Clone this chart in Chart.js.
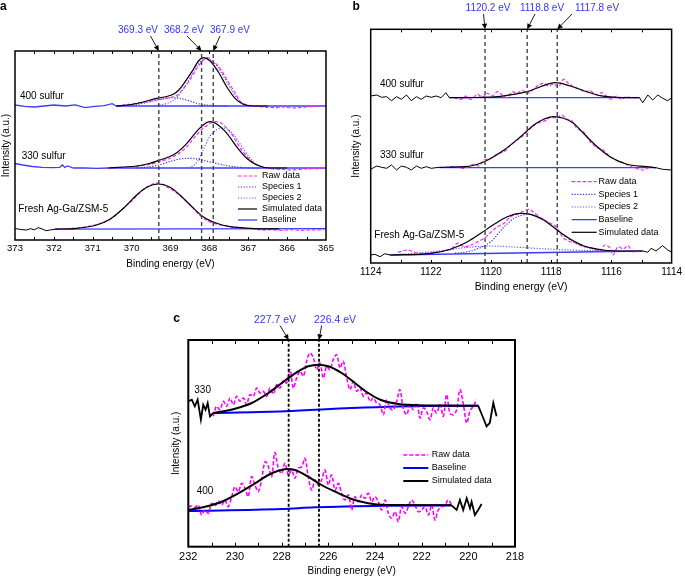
<!DOCTYPE html>
<html>
<head>
<meta charset="utf-8">
<script src="https://cdn.jsdelivr.net/npm/chart.js@4.4.0/dist/chart.umd.min.js"></script>
<style>
  html, body { margin: 0; padding: 0; background: #fff; }
  body { width: 685px; height: 577px; position: relative; overflow: hidden; }
  canvas { position: absolute; }
</style>
</head>
<body>
<canvas id="chartA" width="340" height="290" style="left:0;top:0;width:340px;height:290px"></canvas>
<canvas id="chartB" width="345" height="300" style="left:340px;top:0;width:345px;height:300px"></canvas>
<canvas id="chartC" width="360" height="277" style="left:170px;top:300px;width:360px;height:277px"></canvas>
<script>
// XPS fits, three panels. Energies in eV, intensities in a.u. (curves are stacked with offsets)

// ---------- panel a ----------
const aPeaks = [369.3, 368.2, 367.9];
const aSamples = ['400 sulfur', '330 sulfur', 'Fresh Ag-Ga/ZSM-5'];
const a400Lead = [[373,135],[372.75,133.7],[372.5,133],[372.25,134],[372,135],[371.7,134],[371.45,135.2],[371.2,132.3],[370.95,133.7],[370.7,134.3],[370.5,136.3],[370.4,134]];
const a400Raw = [[370.4,134],[370.1,135.5],[369.8,137],[369.5,139],[369.2,141],[368.95,143],[368.8,145.5],[368.67,151.7],[368.55,157],[368.45,163.3],[368.35,170],[368.22,177],[368.07,182.3],[367.93,180],[367.8,175],[367.67,168.3],[367.5,157],[367.35,148],[367.2,138.3],[367.05,135],[366.9,134],[366.7,133.3],[366.5,132.7],[366.3,132.3],[366.1,133],[365.9,132],[365.7,132.3],[365.5,133],[365.3,133.7],[365.05,134]];
const a400Sim = [[370.4,134],[370.0,135.5],[369.7,138],[369.36,141.7],[369.1,143.5],[368.93,145.7],[368.8,149.5],[368.67,155.7],[368.45,168.3],[368.28,179],[368.16,182.3],[367.98,179],[367.77,168],[367.55,153],[367.34,141.7],[367.13,135.7],[366.87,134],[366.5,134]];
const a400Sp1 = [[370.4,134],[369.9,135.5],[369.5,138.5],[369.2,141.2],[368.95,142.3],[368.75,141.5],[368.5,139],[368.3,136.5],[368.1,135],[367.8,134.3],[367.5,134]];
const a400Sp2 = [[369.5,134],[369.2,135.5],[368.95,139],[368.8,144],[368.65,152],[368.5,162],[368.35,172],[368.2,179.5],[368.1,181.5],[368.0,180.5],[367.85,176],[367.7,168],[367.55,158],[367.4,148],[367.25,140],[367.1,136],[366.9,134.3],[366.7,134]];
const a400Base = [[370.4,134],[365,134]];

const a330Lead = [[373,76.5],[372.8,75],[372.55,73.5],[372.3,72.7],[372.05,72.3],[371.85,72.7],[371.78,75],[371.72,72.5],[371.65,74],[371.5,72],[371.2,72],[370.9,71.7],[370.6,72]];
const a330Raw = [[370.6,72],[370.2,72.7],[369.87,73.7],[369.55,75.5],[369.27,78.5],[369.0,82],[368.8,86],[368.58,93.3],[368.37,103.3],[368.16,111.7],[367.98,116.7],[367.85,118.3],[367.7,117],[367.55,111.7],[367.38,103.3],[367.2,91.7],[366.95,80],[366.75,75],[366.5,71.7],[366.2,70.7],[365.9,70],[365.6,71],[365.3,71.3],[365.05,71.5]];
const a330Sim = [[370.6,72],[370.2,73],[369.87,74],[369.55,76.5],[369.27,80],[369.05,83],[368.84,87.3],[368.58,96.7],[368.37,106.7],[368.16,115],[367.98,118.3],[367.81,116],[367.55,106.7],[367.3,93.3],[367.04,81.7],[366.78,75],[366.44,72],[366.0,72]];
const a330Sp1 = [[369.9,72],[369.6,73],[369.3,75],[369.05,78],[368.8,80.7],[368.5,81.7],[368.2,80],[367.9,77.3],[367.5,74],[367.2,72.7],[367.0,72],[366.7,72]];
const a330Sp2 = [[368.6,72],[368.45,73.5],[368.3,79],[368.16,90],[367.98,104],[367.8,110.5],[367.65,112],[367.5,110],[367.35,104],[367.21,96],[366.95,81.7],[366.7,73.3],[366.5,72]];
const a330Base = [[370.6,72],[365,72]];

const aFreshLead = [[373,11.5],[372.85,10.5],[372.7,10],[372.6,11.3],[372.5,10.2],[372.4,12.3],[372.3,11],[372.2,9.3],[372.1,10],[371.97,10.7]];
const aFreshRaw = [[371.97,10.7],[371.7,11.3],[371.4,12],[371.1,13.7],[370.85,16],[370.6,19.5],[370.4,25],[370.2,32.3],[370.0,39],[369.8,47],[369.6,53.3],[369.4,56.7],[369.25,56.3],[369.05,52],[368.85,47.3],[368.65,41],[368.45,33.3],[368.25,24.7],[368.05,19.3],[367.85,16.3],[367.65,14.7],[367.4,13.3],[367.15,11.7],[366.9,11.3],[366.65,10],[366.4,10.3],[366.15,9.7],[365.9,10.3],[365.65,9.7],[365.4,10],[365.05,10.3]];
const aFreshSim = [[371.97,10.8],[371.41,11.7],[370.9,15],[370.56,20.7],[370.21,31.7],[369.87,45],[369.61,52.7],[369.31,56],[369.01,52.7],[368.76,45],[368.45,33.3],[368.16,23.3],[367.81,16.7],[367.47,13.3],[366.95,11.7],[366.5,11.2],[366.2,11.2]];
const aFreshBase = [[371.97,10.8],[365,11.3]];

// ---------- panel b ----------
const bPeaks = [1120.2, 1118.8, 1117.8];
const bSamples = ['400 sulfur', '330 sulfur', 'Fresh Ag-Ga/ZSM-5'];
const b400Lead = [[1124,167],[1123.8,168],[1123.64,165.7],[1123.47,166.3],[1123.31,162.3],[1123.14,166.3],[1122.98,163.7],[1122.81,168],[1122.65,162.3],[1122.48,166.3],[1122.32,163.7],[1122.15,167],[1121.99,165.7],[1121.82,167],[1121.66,165.3],[1121.5,170.3],[1121.39,165.3]];
const b400Tail = [[1115.07,165.3],[1114.96,160.3],[1114.79,168],[1114.63,163],[1114.46,168],[1114.3,164.7],[1114.13,162.3],[1114.02,164.7]];
const b400Raw = [[1121.22,165.3],[1121.0,163.7],[1120.84,167],[1120.67,163.7],[1120.45,168.7],[1120.29,165.7],[1120.12,169.7],[1119.96,167],[1119.79,171.3],[1119.63,168],[1119.46,165.3],[1119.3,171.3],[1119.13,169.7],[1118.97,173],[1118.8,169.7],[1118.58,173.7],[1118.42,178],[1118.25,179.7],[1118.09,177],[1117.92,179],[1117.76,176.3],[1117.59,183.7],[1117.43,179.7],[1117.26,176.3],[1117.04,173.7],[1116.88,171.3],[1116.71,172.3],[1116.5,168],[1116.33,170.3],[1116.17,167],[1116.0,163.7],[1115.84,167],[1115.67,163.7],[1115.51,166.3],[1115.34,165.3],[1115.18,165.3]];
const b400Sim = [[1121.39,165.3],[1120.5,165.5],[1119.79,166.3],[1119.24,168.7],[1118.8,171.3],[1118.36,176.3],[1117.87,180.3],[1117.37,177],[1116.82,171.3],[1116.38,167.3],[1115.84,165.7],[1115.07,165.3]];
const b400Base = [[1121.39,165.3],[1115.07,165.3]];

const b330Lead = [[1124,93.7],[1123.8,97],[1123.64,95.7],[1123.47,94.7],[1123.31,98],[1123.14,93],[1122.98,97],[1122.81,95.7],[1122.65,93],[1122.48,97],[1122.32,94.7],[1122.15,96.3],[1121.99,94.7],[1121.72,95.7]];
const b330Tail = [[1114.52,95.3],[1114.3,93.7],[1114.02,93]];
const b330Raw = [[1121.55,95.7],[1121.22,96.3],[1120.89,94.7],[1120.56,99],[1120.4,97],[1120.23,103],[1120.01,104.7],[1119.79,109],[1119.57,111.3],[1119.35,118],[1119.13,123],[1118.91,128],[1118.69,134.7],[1118.47,139.7],[1118.31,141.3],[1118.14,143],[1118.03,146.3],[1117.81,144.7],[1117.65,148],[1117.48,143.7],[1117.32,142.3],[1117.15,134.7],[1116.93,131.3],[1116.71,121.3],[1116.5,115.7],[1116.27,113],[1116.05,106.3],[1115.84,103],[1115.61,100.3],[1115.39,97],[1115.18,94.7],[1114.96,93],[1114.73,95.7],[1114.52,95.3]];
const b330Sim = [[1121.72,95.7],[1120.89,96.3],[1120.23,101.3],[1119.57,113],[1119.02,126.3],[1118.58,138],[1118.25,143.7],[1117.92,146.3],[1117.59,144.7],[1117.26,139.7],[1116.93,129.7],[1116.5,117],[1116.05,106.3],[1115.51,99],[1114.85,96.3],[1114.52,95.3]];
const b330Base = [[1121.72,95.3],[1114.52,95.3]];

const bFreshLead = [[1124,8],[1123.86,8.7],[1123.69,6.3],[1123.53,9.3],[1123.36,8]];
const bFreshTail = [[1114.96,12],[1114.79,10.7],[1114.68,14.7],[1114.52,12],[1114.3,17.3],[1114.13,13],[1114.02,11.3]];
const bFreshRaw = [[1123.09,10.7],[1122.76,13],[1122.43,9.7],[1121.99,10.3],[1121.66,11.3],[1121.33,14],[1121.11,19.7],[1120.89,16.3],[1120.67,18],[1120.45,21.3],[1120.23,24.7],[1120.01,30.7],[1119.79,36.3],[1119.57,39.7],[1119.35,46.3],[1119.13,48.7],[1118.91,52],[1118.75,53.7],[1118.58,50.7],[1118.36,45.3],[1118.14,41.3],[1117.92,38],[1117.81,34.7],[1117.7,29.7],[1117.59,24.7],[1117.37,21.3],[1117.15,19.7],[1116.93,16.3],[1116.6,14.7],[1116.38,12],[1116.22,18],[1116.05,15.3],[1115.95,8],[1115.78,16.3],[1115.61,14],[1115.45,17.3],[1115.29,11.3],[1115.07,12]];
const bFreshSim = [[1123.36,8],[1121.99,9.7],[1121.33,14],[1120.78,21.3],[1120.34,29.7],[1119.9,38.7],[1119.46,46.3],[1119.02,49.7],[1118.69,48.7],[1118.25,43],[1117.81,33],[1117.37,24],[1116.93,17.3],[1116.27,13],[1115.61,12],[1114.96,12]];
const bFreshSp1 = [[1121.2,9.8],[1120.89,10.7],[1120.56,13],[1120.01,21.3],[1119.57,36],[1119.24,44.5],[1118.95,48],[1118.75,48.7],[1118.4,46],[1118.0,38],[1117.6,28],[1117.2,20],[1116.8,15.5],[1116.3,12.5],[1115.8,11.8]];
const bFreshSp2 = [[1123.31,8],[1122.54,9.7],[1121.44,13],[1120.89,15.3],[1120.01,17],[1119.24,16],[1118.14,14],[1117.04,12.7],[1115.61,12]];
const bFreshBase = [[1123.36,8],[1114.96,12]];

// ---------- panel c ----------
const cPeaks = [227.7, 226.4];
const cSamples = ['330', '400'];
const c330Lead = [[232,145.4],[231.85,147],[231.72,140.4],[231.6,147],[231.46,127],[231.36,142],[231.26,137],[231.17,143.7],[231.07,130.4],[230.93,133.7]];
const c330Tail = [[219.58,141],[219.36,128.7],[219.22,120.4],[219.08,123.7],[218.93,143.7],[218.79,130.4]];
const c330RawX = [230.93,230.79,230.64,230.50,230.36,230.21,230.07,229.93,229.79,229.64,229.50,229.36,229.21,229.07,228.93,228.79,228.64,228.50,228.36,228.21,228.07,227.93,227.79,227.64,227.50,227.36,227.21,227.07,226.93,226.79,226.64,226.50,226.36,226.21,226.07,225.93,225.79,225.64,225.50,225.36,225.21,225.07,224.93,224.79,224.64,224.50,224.36,224.21,224.07,223.93,223.79,223.64,223.50,223.36,223.21,223.07,222.93,222.79,222.64,222.50,222.36,222.21,222.07,221.93,221.79,221.64,221.50,221.36,221.21,221.07,220.93,220.79,220.64,220.50,220.36,220.21,220.07,219.93,219.79,219.64];
const c330RawY = [130.4,140.4,137.0,145.4,140.4,148.7,142.0,150.4,145.4,148.7,142.0,152.0,150.4,158.7,153.7,155.4,150.4,158.7,152.7,162.0,158.7,166.0,163.7,177.0,158.7,168.7,175.4,170.4,185.4,193.7,188.7,177.0,183.7,168.7,180.4,177.0,187.0,192.0,178.7,185.4,168.7,157.0,165.4,155.4,158.7,150.4,153.7,145.4,148.7,143.7,142.0,132.0,147.0,138.7,137.0,145.4,157.0,138.7,132.0,142.0,137.0,143.7,128.7,138.7,135.4,127.0,138.7,133.7,142.0,130.4,152.0,133.7,132.0,137.0,157.0,142.0,123.7,135.4,140.4,147.0];
const c330Sim = [[230.93,133.7],[230.0,138],[229.28,143.7],[228.57,153.7],[227.86,166],[227.29,175.3],[226.86,180.4],[226.43,182],[226.0,180.4],[225.43,173.7],[224.86,163.7],[224.29,153.7],[223.71,146.4],[223.0,142.7],[222.15,141.4],[219.57,141]];
const c330Base = [[230.93,133.7],[227.86,135.4],[225.0,138.7],[223.0,140.3],[221,141],[219.57,141]];

const c400RawX = [232.00,231.86,231.71,231.57,231.43,231.29,231.14,231.00,230.86,230.71,230.57,230.43,230.29,230.14,230.00,229.86,229.71,229.57,229.43,229.29,229.14,229.00,228.86,228.71,228.57,228.43,228.29,228.14,228.00,227.86,227.71,227.57,227.43,227.29,227.14,227.00,226.86,226.71,226.57,226.43,226.29,226.14,226.00,225.86,225.71,225.57,225.43,225.29,225.14,225.00,224.86,224.71,224.57,224.43,224.29,224.14,224.00,223.86,223.71,223.57,223.43,223.29,223.14,223.00,222.86,222.71,222.57,222.43,222.29,222.14,222.00,221.86,221.71,221.57,221.43,221.29,221.14,221.00,220.86,220.71];
const c400RawY = [40.0,40.7,39.4,41.7,31.7,36.7,33.4,43.4,40.7,46.0,41.7,46.7,40.0,50.0,60.0,55.0,63.4,58.4,50.0,70.0,61.7,55.0,66.7,85.0,80.0,70.0,94.0,78.4,73.4,83.4,71.7,76.7,68.4,78.4,80.0,88.4,70.0,56.7,66.7,61.7,66.7,76.7,61.7,71.7,56.7,63.4,53.4,46.7,51.7,36.7,50.0,45.0,51.7,48.4,53.4,45.0,50.0,45.0,36.7,46.7,33.4,28.4,35.0,25.0,40.0,33.4,40.0,46.7,41.7,35.0,36.7,40.0,31.7,41.7,26.7,36.7,40.0,41.7,46.7,41.4];
const c400Sim = [[232,36.7],[231.28,40],[230.57,45],[229.86,53.4],[229.14,63.4],[228.57,71.7],[228.14,76],[227.79,77.7],[227.43,76.7],[226.86,70],[226.29,61.7],[225.71,55],[225.0,47.7],[224.29,43.4],[223.57,41.7],[220.72,41.4]];
const c400Base = [[232,35.7],[228,37.7],[226.57,39.4],[223.57,41],[220.72,41.4]];
const c400Tail = [[220.72,41.4],[220.5,36.7],[220.36,46.7],[220.22,36.7],[220.07,48.4],[219.93,38.4],[219.86,45],[219.72,31.7],[219.58,36.7],[219.43,42.7]];

// ---------- styles ----------
const FONT = "'Liberation Sans', Arial, Helvetica, sans-serif";
Chart.defaults.font.family = FONT;
Chart.defaults.color = '#000';

const LABELS = { raw: 'Raw data', sp1: 'Species 1', sp2: 'Species 2', sim: 'Simulated data', base: 'Baseline' };
const thin = {
  raw:  { borderColor: '#ff22ff', borderDash: [3.5, 2], borderWidth: 1.2 },
  sp1:  { borderColor: '#2f2ff0', borderDash: [1.2, 1.6], borderWidth: 1.2 },
  sp2:  { borderColor: '#5a5aff', borderDash: [1.2, 1.6], borderWidth: 1.2 },
  sim:  { borderColor: '#000000', borderWidth: 1.2 },
  base: { borderColor: '#3c3cff', borderWidth: 1.3 },
  leadBlue: { borderColor: '#3c3cff', borderWidth: 1.3 },
  lead: { borderColor: '#000000', borderWidth: 1 },
  mark: { borderColor: '#444444', borderDash: [4, 3], borderWidth: 1.4 }
};
const thick = {
  raw:  { borderColor: '#ff00ff', borderDash: [4, 2], borderWidth: 1.6 },
  sim:  { borderColor: '#000000', borderWidth: 2 },
  base: { borderColor: '#0000ff', borderWidth: 2 },
  lead: { borderColor: '#000000', borderWidth: 1.8 },
  mark: { borderColor: '#000000', borderDash: [3, 2], borderWidth: 1.8 }
};

const pts = pairs => pairs.map(([x, y]) => ({ x, y }));
const zip = (xs, ys) => xs.map((x, i) => ({ x, y: ys[i] }));
function line(data, style, extra) {
  return Object.assign({ data, pointRadius: 0, pointHoverRadius: 0, fill: false, tension: 0.3 }, style, extra);
}
const smooth = { cubicInterpolationMode: 'monotone' };
const stiff = { tension: 0 };
const marks = (peaks, yMax, st) => peaks.map(p => line(pts([[p, 0], [p, yMax]]), st.mark, stiff));

function arrow(ctx, x0, y0, x1, y1) {
  const ang = Math.atan2(y1 - y0, x1 - x0), len = 5.5, w = 2.6;
  ctx.beginPath();
  ctx.moveTo(x0, y0);
  ctx.lineTo(x1 - Math.cos(ang) * len, y1 - Math.sin(ang) * len);
  ctx.stroke();
  ctx.beginPath();
  ctx.moveTo(x1, y1);
  ctx.lineTo(x1 - Math.cos(ang) * len - Math.sin(ang) * w, y1 - Math.sin(ang) * len + Math.cos(ang) * w);
  ctx.lineTo(x1 - Math.cos(ang) * len + Math.sin(ang) * w, y1 - Math.sin(ang) * len - Math.cos(ang) * w);
  ctx.closePath();
  ctx.fill();
}

// frame, inner ticks, peak labels, sample names, legend, panel letter
const decor = {
  id: 'decor',
  afterDatasetsDraw(chart, args, o) {
    const { ctx, chartArea: ca } = chart;
    const x = chart.scales.x;
    ctx.save();
    ctx.strokeStyle = '#000';
    ctx.lineWidth = 1;
    x.ticks.forEach(t => {
      const px = Math.round(x.getPixelForValue(t.value)) + 0.5;
      if (px < ca.left + 2 || px > ca.right - 2) return;
      ctx.beginPath();
      ctx.moveTo(px, ca.bottom); ctx.lineTo(px, ca.bottom - o.tick);
      ctx.moveTo(px, ca.top); ctx.lineTo(px, ca.top + o.tick);
      ctx.stroke();
    });
    ctx.lineWidth = o.frame;
    ctx.strokeRect(ca.left, ca.top, ca.right - ca.left, ca.bottom - ca.top);

    ctx.textBaseline = 'middle';
    ctx.font = o.annFont;
    o.peaks.forEach((p, i) => {
      const a = o.ann[i];
      ctx.fillStyle = '#3434ff';
      ctx.textAlign = 'center';
      ctx.fillText(p.toFixed(1) + ' eV', a.tx, a.ty);
      ctx.fillStyle = '#000'; ctx.strokeStyle = '#000'; ctx.lineWidth = 0.9;
      arrow(ctx, a.fx, a.fy, x.getPixelForValue(p), ca.top);
    });

    ctx.fillStyle = '#000';
    ctx.textAlign = 'left';
    ctx.font = o.tagFont;
    o.tags.forEach((t, i) => ctx.fillText(o.samples[i], t.x, t.y));

    const lg = o.legend;
    ctx.font = lg.font;
    lg.items.forEach((k, i) => {
      const y = lg.y0 + i * lg.dy;
      const st = lg.styles[k];
      ctx.save();
      ctx.strokeStyle = st.borderColor;
      ctx.lineWidth = st.borderWidth;
      ctx.setLineDash(st.borderDash || []);
      ctx.beginPath(); ctx.moveTo(lg.x1, y); ctx.lineTo(lg.x2, y); ctx.stroke();
      ctx.restore();
      ctx.fillText(LABELS[k], lg.tx, y);
    });

    ctx.font = 'bold 12px ' + FONT;
    ctx.textBaseline = 'alphabetic';
    ctx.fillText(o.letter.text, o.letter.x, o.letter.y);
    ctx.restore();
  }
};

function makeChart(id, c) {
  return new Chart(document.getElementById(id), {
    type: 'line',
    data: { datasets: c.datasets },
    options: {
      responsive: false, animation: false, events: [],
      layout: { padding: c.padding },
      plugins: { legend: { display: false }, tooltip: { enabled: false }, decor: c.decor },
      scales: {
        x: {
          type: 'linear', reverse: true, min: c.xMin, max: c.xMax,
          grid: { display: false, drawTicks: false }, border: { display: false },
          ticks: {
            stepSize: c.step, maxTicksLimit: 100, autoSkip: false, maxRotation: 0, minRotation: 0,
            padding: c.tickPad, color: '#000', font: { size: c.tickSize, lineHeight: 1.2 },
            callback: v => (Math.abs(v % c.labelEvery) < 1e-6 ? String(v) : '')
          },
          title: { display: true, text: 'Binding energy (eV)', color: '#000',
                   font: { size: c.titleSize, lineHeight: 1.2 }, padding: { top: c.titlePad, bottom: 0 } }
        },
        y: {
          type: 'linear', min: 0, max: c.yMax,
          grid: { display: false, drawTicks: false }, border: { display: false }, ticks: { display: false },
          title: { display: true, text: 'Intensity (a.u.)', color: '#000',
                   font: { size: 10, lineHeight: 1.2 }, padding: { top: 0, bottom: c.yGap } }
        }
      }
    },
    plugins: [decor]
  });
}

// ---------- panel a ----------
const aYMax = 189;
makeChart('chartA', {
  xMin: 365, xMax: 373, step: 0.5, labelEvery: 1, tickSize: 9.5, tickPad: 3, titleSize: 10, titlePad: 0.6,
  yMax: aYMax, yGap: 3,
  padding: { left: 0, top: 51, right: 14, bottom: 20 },
  datasets: [
    ...marks(aPeaks, aYMax, thin),
    line(pts(a400Sim), thin.sim, smooth), line(pts(a330Sim), thin.sim, smooth), line(pts(aFreshSim), thin.sim, smooth),
    line(pts(a400Raw), thin.raw), line(pts(a330Raw), thin.raw), line(pts(aFreshRaw), thin.raw),
    line(pts(a400Sp1), thin.sp1, smooth), line(pts(a400Sp2), thin.sp2, smooth),
    line(pts(a330Sp1), thin.sp1, smooth), line(pts(a330Sp2), thin.sp2, smooth),
    line(pts(a400Base), thin.base, stiff), line(pts(a330Base), thin.base, stiff), line(pts(aFreshBase), thin.base, stiff),
    line(pts(a400Lead), thin.leadBlue, stiff), line(pts(a330Lead), thin.leadBlue, stiff), line(pts(aFreshLead), thin.lead, stiff)
  ],
  decor: {
    letter: { text: 'a', x: 0, y: 10 }, frame: 1.5, tick: 3,
    peaks: aPeaks, annFont: '10px ' + FONT,
    ann: [{ tx: 138, ty: 30, fx: 150.5, fy: 36 }, { tx: 184, ty: 30, fx: 187, fy: 36 }, { tx: 230, ty: 30, fx: 220, fy: 36 }],
    samples: aSamples, tagFont: '10px ' + FONT,
    tags: [{ x: 20, y: 96.7 }, { x: 21.7, y: 156.7 }, { x: 18.3, y: 209.3 }],
    legend: { x1: 238, x2: 257, tx: 262, y0: 176, dy: 11, font: '9px ' + FONT, styles: thin,
              items: ['raw', 'sp1', 'sp2', 'sim', 'base'] }
  }
});

// ---------- panel b ----------
const bYMax = 233.7;
makeChart('chartB', {
  xMin: 1114, xMax: 1124, step: 1, labelEvery: 2, tickSize: 10, tickPad: 3, titleSize: 10.5, titlePad: 0,
  yMax: bYMax, yGap: 8.7,
  padding: { left: 10, top: 29.3, right: 11, bottom: 6.4 },
  datasets: [
    ...marks(bPeaks, bYMax, thin),
    line(pts(b400Sim), thin.sim, smooth), line(pts(b330Sim), thin.sim, smooth), line(pts(bFreshSim), thin.sim, smooth),
    line(pts(b400Raw), thin.raw), line(pts(b330Raw), thin.raw), line(pts(bFreshRaw), thin.raw),
    line(pts(bFreshSp1), thin.sp1, smooth), line(pts(bFreshSp2), thin.sp2, smooth),
    line(pts(b400Base), thin.base, stiff), line(pts(b330Base), thin.base, stiff), line(pts(bFreshBase), thin.base, stiff),
    line(pts(b400Lead), thin.lead, stiff), line(pts(b400Tail), thin.lead, stiff),
    line(pts(b330Lead), thin.lead, stiff), line(pts(b330Tail), thin.lead, stiff),
    line(pts(bFreshLead), thin.lead, stiff), line(pts(bFreshTail), thin.lead, stiff)
  ],
  decor: {
    letter: { text: 'b', x: 12.5, y: 10 }, frame: 1.5, tick: 3,
    peaks: bPeaks, annFont: '10px ' + FONT,
    ann: [{ tx: 148, ty: 8, fx: 143.5, fy: 14 }, { tx: 202, ty: 8, fx: 195, fy: 14 }, { tx: 257, ty: 8, fx: 232, fy: 14 }],
    samples: bSamples, tagFont: '10px ' + FONT,
    tags: [{ x: 40, y: 84 }, { x: 40, y: 155.7 }, { x: 34.3, y: 235 }],
    legend: { x1: 231.7, x2: 256.7, tx: 258.5, y0: 181.7, dy: 12.65, font: '9px ' + FONT, styles: thin,
              items: ['raw', 'sp1', 'sp2', 'base', 'sim'] }
  }
});

// ---------- panel c ----------
const cYMax = 206.7;
makeChart('chartC', {
  xMin: 218, xMax: 232, step: 1, labelEvery: 2, tickSize: 11, tickPad: 4, titleSize: 10, titlePad: -2.9,
  yMax: cYMax, yGap: 6.3,
  padding: { left: 0, top: 40, right: 15, bottom: 0 },
  datasets: [
    ...marks(cPeaks, cYMax, thick),
    line(pts(c330Sim), thick.sim, smooth), line(pts(c400Sim), thick.sim, smooth),
    line(zip(c330RawX, c330RawY), thick.raw, { tension: 0.35 }), line(zip(c400RawX, c400RawY), thick.raw, { tension: 0.35 }),
    line(pts(c330Base), thick.base, smooth), line(pts(c400Base), thick.base, smooth),
    line(pts(c330Lead), thick.lead, stiff), line(pts(c330Tail), thick.lead, stiff), line(pts(c400Tail), thick.lead, stiff)
  ],
  decor: {
    letter: { text: 'c', x: 3.3, y: 21.7 }, frame: 2, tick: 4,
    peaks: cPeaks, annFont: '10.5px ' + FONT,
    ann: [{ tx: 105, ty: 20, fx: 110, fy: 25.5 }, { tx: 165, ty: 20, fx: 151.7, fy: 25.5 }],
    samples: cSamples, tagFont: '10px ' + FONT,
    tags: [{ x: 24.3, y: 90.7 }, { x: 26.7, y: 191.7 }],
    legend: { x1: 233.3, x2: 258.3, tx: 261.7, y0: 155, dy: 13, font: '9px ' + FONT, styles: thick,
              items: ['raw', 'base', 'sim'] }
  }
});
</script>
</body>
</html>
